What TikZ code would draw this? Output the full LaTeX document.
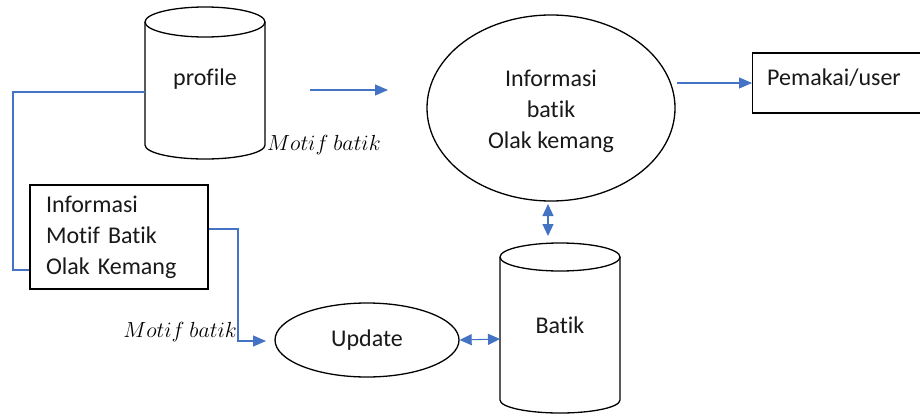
\documentclass[tikz,border=0pt]{standalone}
\usepackage{fontspec}
\setmainfont{Carlito}[Ligatures=NoCommon]
\usetikzlibrary{arrows.meta,shapes.geometric}
\definecolor{flowblue}{HTML}{4472C4}
\tikzset{
  outline/.style={draw=black, line width=1.3pt},
  boxnode/.style={outline, rectangle, inner sep=0pt},
  ovalnode/.style={outline, ellipse, inner sep=0pt},
  txt/.style={inner sep=0pt, font=\fontsize{24}{31}\selectfont, text=black!90},
  lbl/.style={inner sep=0pt, font=\fontsize{24.88}{28}\selectfont},
  flow/.style={draw=flowblue, line width=1.1pt, -{Triangle[length=13pt,width=11pt]}},
  flowline/.style={draw=flowblue, line width=1.1pt},
  dbl/.style={draw=flowblue, line width=1.1pt, {Triangle[length=12pt,width=11pt]}-{Triangle[length=12pt,width=11pt]}}
}
\newcommand{\motiflabel}{\scalebox{0.88}{$Motif\ batik$}}
\begin{document}
\begin{tikzpicture}[x=1pt,y=1pt]
\useasboundingbox (0,0) rectangle (920,416);
\clip (0,0) rectangle (920,416);
\fill[white] (0,0) rectangle (920,416);

% profile cylinder
\draw[outline] (145,394) -- (145,271) arc[start angle=180,end angle=360,x radius=60pt,y radius=14pt] -- (265,394);
\draw[outline] (205,394) ellipse [x radius=60pt, y radius=15pt];
\node[txt] (profile) at (205,337) {profile};
\coordinate (profL) at (145,324);

% batik cylinder
\draw[outline] (500,159) -- (500,16) arc[start angle=180,end angle=360,x radius=60pt,y radius=13pt] -- (620,159);
\draw[outline] (560,159) ellipse [x radius=60pt, y radius=14pt];
\node[txt] (batik) at (560,91) {Batik};
\coordinate (batikL) at (500,77);
\coordinate (batikT) at (548,180);

% info box
\node[boxnode, minimum width=178pt, minimum height=104pt, text width=146pt, inner xsep=16pt, align=left, txt, inner ysep=0pt] (infobox) at (119,179)
  {Informasi\\Motif Batik\\Olak Kemang};

% big process
\node[ovalnode, minimum width=248pt, minimum height=186pt] (info) at (551,308) {};
\node[txt, align=center] (infotext) at (551,304.5) {Informasi\\batik\\Olak kemang};

% update process
\node[ovalnode, minimum width=184pt, minimum height=74pt] (update) at (367,76) {};
\node[txt] (updatetext) at (367,76) {Update};

% pemakai box
\node[boxnode, minimum width=175pt, minimum height=60pt, anchor=west] (pemakai) at (752,333) {};
\node[txt, anchor=west] (pemakaitext) at (767,338) {Pemakai/user};

% labels
\node[lbl, anchor=west] (lab1) at (267,271) {\motiflabel};
\node[lbl, anchor=east] (lab2) at (237,84) {\motiflabel};

% connectors
\draw[flowline] (profL) -- (13,324) -- (13,146) -- (infobox.west |- 0,146);
\coordinate (boxE) at ([yshift=8pt]infobox.east);
\coordinate (updIn) at (266,75);
\draw[flow] (boxE) -- (238,187) -- (238,75) -- (updIn);
\coordinate (a1s) at (310,326);
\coordinate (a1e) at (388,326);
\draw[flow] (a1s) -- (a1e);
\coordinate (infoR) at (677,333);
\draw[flow] (infoR) -- (pemakai.west);
\coordinate (infoB) at (548,212);
\draw[dbl] (infoB) -- (batikT);
\draw[dbl] (update.east) -- (batikL);
\end{tikzpicture}
\end{document}
